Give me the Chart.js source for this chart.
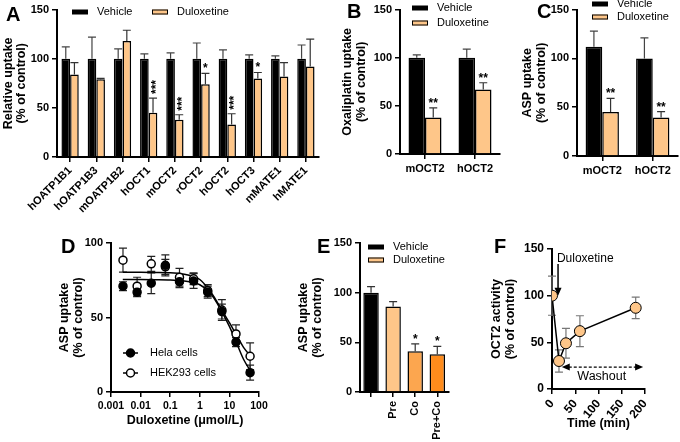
<!DOCTYPE html>
<html>
<head>
<meta charset="utf-8">
<script src="https://cdn.jsdelivr.net/npm/chart.js@4.4.1/dist/chart.umd.min.js"></script>
<style>
  body { margin: 0; background: #fff; }
  #fig { position: relative; width: 680px; height: 442px; overflow: hidden; font-family: "Liberation Sans", Arial, sans-serif; }
  canvas { position: absolute; }
  .lab { position: absolute; font-weight: bold; font-size: 20px; line-height: 20px; color: #000; }
</style>
</head>
<body>
<div id="fig">
  <canvas id="cA" width="330" height="226" style="left:0;top:0"></canvas>
  <canvas id="cB" width="175" height="185" style="left:330px;top:0"></canvas>
  <canvas id="cC" width="175" height="185" style="left:505px;top:0"></canvas>
  <canvas id="cD" width="235" height="212" style="left:40px;top:230px"></canvas>
  <canvas id="cE" width="160" height="212" style="left:295px;top:230px"></canvas>
  <canvas id="cF" width="225" height="212" style="left:455px;top:230px"></canvas>
  <div class="lab" style="left:6px;top:4px">A</div>
  <div class="lab" style="left:347px;top:1px">B</div>
  <div class="lab" style="left:537px;top:1px">C</div>
  <div class="lab" style="left:61px;top:236px">D</div>
  <div class="lab" style="left:317px;top:236px">E</div>
  <div class="lab" style="left:494px;top:236px">F</div>
</div>
<script>
// ---- data ----
const seriesNames = ['Vehicle', 'Duloxetine'];

// A
const aCats = ['hOATP1B1', 'hOATP1B3', 'mOATP1B2', 'hOCT1', 'mOCT2', 'rOCT2', 'hOCT2', 'hOCT3', 'mMATE1', 'hMATE1'];
const aVeh = [100, 100, 100, 100, 100, 100, 100, 100, 100, 100];
const aVehErr = [12, 22, 10, 5, 6, 16, 9, 4, 3, 14];
const aDul = [84, 79, 118, 45, 38, 74, 33, 80, 82, 92];
const aDulErr = [12, 1, 11, 15, 5, 11, 11, 6, 14, 28];
const aStars = ['', '', '', '***', '***', '*', '***', '*', '', ''];

// B
const bCats = ['mOCT2', 'hOCT2'];
const bVeh = [100, 100];
const bVehErr = [3, 9];
const bDul = [38, 67];
const bDulErr = [10, 7];
const bStars = ['**', '**'];

// C
const cCats = ['mOCT2', 'hOCT2'];
const cVeh = [112, 100];
const cVehErr = [16, 21];
const cDul = [45, 39.5];
const cDulErr = [14, 6];
const cStars = ['**', '**'];

// D
const dX = [0.00254, 0.00762, 0.0229, 0.0686, 0.206, 0.617, 1.85, 5.56, 16.7, 50];
const helaY = [71, 67, 73, 85, 74, 74.5, 67, 54, 33.5, 13];
const helaErr = [3, 3, 7, 7, 4, 5, 4, 5, 3, 5];
const hekY = [88.5, 71, 86, 84, 77, 76, 68, 55, 39, 24];
const hekErr = [8, 6, 5, 5, 6, 4, 4, 7, 6, 9];
const fitX = [0.0025, 0.01, 0.03, 0.1, 0.3, 0.6, 1, 2, 3, 5, 10, 20, 30, 58];
const helaFit = [75.5, 75.5, 75.4, 75.2, 74.5, 73.5, 72, 67.5, 63, 55.5, 44, 30, 22, 12.5];
const hekFit = [80.3, 80.3, 80.2, 80, 79, 77.5, 75.5, 69, 64, 56.5, 46.5, 36, 30, 23];
const dCells = ['Hela cells', 'HEK293 cells'];
const dTicks = [0.001, 0.01, 0.1, 1, 10, 100];
const dTickLabels = ['0.001', '0.01', '0.1', '1', '10', '100'];

// E
const eCats = ['', 'Pre', 'Co', 'Pre+Co'];
const eVals = [100, 86, 41, 38];
const eErr = [6, 5, 7.5, 8];
const eStars = ['', '', '*', '*'];

// F
const fT = [0, 15, 30, 60, 180];
const fY = [100, 30, 49, 62, 87];
const fErr = [21, 12, 16, 16.5, 11.5];

// ---- styles ----
const BLACK = '#000000';
const ORANGE = '#fec689';
const ORANGE2 = '#fca64f';
const ORANGE3 = '#ff8c1c';

Chart.defaults.font.family = '"Liberation Sans", Arial, sans-serif';
Chart.defaults.color = '#000';

// one-sided (bars) or two-sided (points) error bars, drawn under the marks
const errorBars = {
  id: 'errorBars',
  beforeDatasetsDraw(chart) {
    const { ctx, scales: { y } } = chart;
    chart.data.datasets.forEach((ds, i) => {
      if (!ds.errors) return;
      const meta = chart.getDatasetMeta(i);
      ctx.save();
      ctx.strokeStyle = ds.errorColor || '#333';
      ctx.lineWidth = 1.2;
      meta.data.forEach((el, j) => {
        const e = ds.errors[j];
        if (e == null) return;
        const v = typeof ds.data[j] === 'object' ? ds.data[j].y : ds.data[j];
        const x = el.x;
        const top = y.getPixelForValue(v + e);
        const bot = y.getPixelForValue(ds.errorBoth ? v - e : v);
        const cap = 4;
        ctx.beginPath();
        ctx.moveTo(x, bot); ctx.lineTo(x, top);
        ctx.moveTo(x - cap, top); ctx.lineTo(x + cap, top);
        if (ds.errorBoth) { ctx.moveTo(x - cap, bot); ctx.lineTo(x + cap, bot); }
        ctx.stroke();
      });
      ctx.restore();
    });
  }
};

// significance marks above error bars
const stars = {
  id: 'stars',
  afterDatasetsDraw(chart) {
    const { ctx, scales: { y } } = chart;
    chart.data.datasets.forEach((ds, i) => {
      if (!ds.stars) return;
      const meta = chart.getDatasetMeta(i);
      meta.data.forEach((el, j) => {
        const s = ds.stars[j];
        if (!s) return;
        const top = y.getPixelForValue(ds.data[j] + (ds.errors ? ds.errors[j] : 0));
        ctx.save();
        ctx.fillStyle = '#000';
        ctx.font = 'bold 12px "Liberation Sans", Arial, sans-serif';
        if (ds.starsVertical && s.length > 1) {
          ctx.translate(el.x, top - 4);
          ctx.rotate(-Math.PI / 2);
          ctx.textAlign = 'left';
          ctx.textBaseline = 'alphabetic';
          ctx.fillText(s, 0, 6.8);
        } else {
          ctx.textAlign = 'center';
          ctx.textBaseline = 'alphabetic';
          ctx.fillText(s, el.x, top - 1);
        }
        ctx.restore();
      });
    });
  }
};

// small swatch legends
const boxLegend = {
  id: 'boxLegend',
  afterDraw(chart, args, opts) {
    if (!opts.items) return;
    const ctx = chart.ctx;
    ctx.save();
    opts.items.forEach(it => {
      ctx.fillStyle = it.fill;
      ctx.fillRect(it.x, it.y - 2.5, 16, 5);
      if (it.fill !== BLACK) {
        ctx.strokeStyle = '#000';
        ctx.lineWidth = 1;
        ctx.strokeRect(it.x + 0.5, it.y - 2, 15, 4);
      }
      ctx.fillStyle = '#000';
      ctx.font = '11px "Liberation Sans", Arial, sans-serif';
      ctx.textBaseline = 'middle';
      ctx.textAlign = 'left';
      ctx.fillText(it.text, it.x + 25, it.y);
    });
    ctx.restore();
  }
};

function axisY(max, title, pad, width, size) {
  return {
    min: 0, max: max,
    ticks: { stepSize: 50, font: { weight: 'bold', size: size || 11 }, padding: 3 },
    grid: { drawOnChartArea: false, tickLength: 5, color: '#000', lineWidth: 1.5 },
    border: { color: '#000', width: 2 },
    title: { display: true, text: title, font: { weight: 'bold', size: 12.5, lineHeight: 1.05 }, padding: { top: pad, bottom: 0 } },
    afterFit: s => { s.width = width; }
  };
}

function axisXCat(height, rot, pad) {
  return {
    offset: true,
    ticks: { autoSkip: false, maxRotation: rot, minRotation: rot, font: { weight: 'bold', size: 11 }, padding: pad },
    grid: { drawOnChartArea: false, offset: false, tickLength: 5, color: '#000', lineWidth: 1.5 },
    border: { color: '#000', width: 2 },
    afterFit: s => { s.height = height; }
  };
}

function baseOptions(pad, scales, legendItems) {
  return {
    responsive: false,
    animation: false,
    events: [],
    layout: { padding: pad },
    scales: scales,
    plugins: { legend: { display: false }, tooltip: { enabled: false }, boxLegend: { items: legendItems } }
  };
}

function barSets(veh, vehErr, dul, dulErr, st, vertical) {
  return [
    { label: seriesNames[0], data: veh, errors: vehErr, errorColor: '#444', backgroundColor: BLACK,
      borderColor: BLACK, borderWidth: 1.5, barPercentage: 1, categoryPercentage: 0.66 },
    { label: seriesNames[1], data: dul, errors: dulErr, errorColor: '#333', stars: st, starsVertical: vertical,
      backgroundColor: ORANGE, borderColor: BLACK, borderWidth: 1.5, barPercentage: 1, categoryPercentage: 0.66 }
  ];
}

const pct = '(% of control)';

// A
new Chart(document.getElementById('cA'), {
  type: 'bar',
  data: { labels: aCats, datasets: barSets(aVeh, aVehErr, aDul, aDulErr, aStars, true) },
  options: baseOptions({ top: 9, right: 11 },
    { x: axisXCat(69, 45, 2), y: axisY(150, ['Relative uptake', pct], 1.5, 57) },
    [{ text: seriesNames[0], fill: BLACK, x: 72, y: 12 }, { text: seriesNames[1], fill: ORANGE, x: 152, y: 12 }]),
  plugins: [errorBars, stars, boxLegend]
});

// B
new Chart(document.getElementById('cB'), {
  type: 'bar',
  data: { labels: bCats, datasets: barSets(bVeh, bVehErr, bDul, bDulErr, bStars, false) },
  options: baseOptions({ top: 6, right: 5 },
    { x: axisXCat(31, 0, 3), y: axisY(150, ['Oxaliplatin uptake', pct], 11.4, 70) },
    [{ text: seriesNames[0], fill: BLACK, x: 82, y: 8 }, { text: seriesNames[1], fill: ORANGE, x: 82, y: 23 }]),
  plugins: [errorBars, stars, boxLegend]
});

// C
new Chart(document.getElementById('cC'), {
  type: 'bar',
  data: { labels: cCats, datasets: barSets(cVeh, cVehErr, cDul, cDulErr, cStars, false) },
  options: baseOptions({ top: 7, right: 2 },
    { x: axisXCat(29, 0, 3), y: axisY(150, ['ASP uptake', pct], 16.4, 72) },
    [{ text: seriesNames[0], fill: BLACK, x: 87, y: 4 }, { text: seriesNames[1], fill: ORANGE, x: 87, y: 17 }]),
  plugins: [errorBars, stars, boxLegend]
});

// D
const pts = (xs, ys) => xs.map((x, i) => ({ x: x, y: ys[i] }));
const pointLegend = {
  id: 'pointLegend',
  afterDraw(chart) {
    const ctx = chart.ctx;
    const rows = [{ text: dCells[0], fill: '#000', y: 123 }, { text: dCells[1], fill: '#fff', y: 143 }];
    ctx.save();
    rows.forEach(r => {
      ctx.strokeStyle = '#000';
      ctx.lineWidth = 1.5;
      ctx.beginPath(); ctx.moveTo(83, r.y); ctx.lineTo(98, r.y); ctx.stroke();
      ctx.beginPath(); ctx.arc(90.5, r.y, 4, 0, Math.PI * 2);
      ctx.fillStyle = r.fill; ctx.fill(); ctx.stroke();
      ctx.fillStyle = '#000';
      ctx.font = '11px "Liberation Sans", Arial, sans-serif';
      ctx.textBaseline = 'middle';
      ctx.fillText(r.text, 110, r.y);
    });
    ctx.restore();
  }
};
new Chart(document.getElementById('cD'), {
  type: 'scatter',
  data: {
    datasets: [
      { label: dCells[0], data: pts(dX, helaY), errors: helaErr, errorBoth: true, errorColor: '#222',
        pointRadius: 4, pointBackgroundColor: '#000', pointBorderColor: '#000', pointBorderWidth: 1.5 },
      { label: dCells[1], data: pts(dX, hekY), errors: hekErr, errorBoth: true, errorColor: '#222',
        pointRadius: 4, pointBackgroundColor: '#fff', pointBorderColor: '#000', pointBorderWidth: 1.5 },
      { data: pts(fitX, helaFit), showLine: true, pointRadius: 0, borderColor: '#000', borderWidth: 1.5, cubicInterpolationMode: 'monotone' },
      { data: pts(fitX, hekFit), showLine: true, pointRadius: 0, borderColor: '#000', borderWidth: 1.5, cubicInterpolationMode: 'monotone' }
    ]
  },
  options: baseOptions({ top: 13, right: 16 }, {
    x: {
      type: 'logarithmic', min: 0.001, max: 100,
      afterBuildTicks: s => { s.ticks = dTicks.map(v => ({ value: v })); },
      ticks: { autoSkip: false, maxRotation: 0, font: { weight: 'bold', size: 10.5 }, padding: 3,
        callback: (v, i) => dTickLabels[i] },
      grid: { drawOnChartArea: false, tickLength: 5, color: '#000', lineWidth: 1.5 },
      border: { color: '#000', width: 2 },
      title: { display: true, text: 'Duloxetine (μmol/L)', font: { weight: 'bold', size: 12.5, lineHeight: 1.05 }, padding: { top: 0, bottom: 14.4 } },
      afterFit: s => { s.height = 50; }
    },
    y: axisY(100, ['ASP uptake', pct], 18.4, 71)
  }, null),
  plugins: [errorBars, pointLegend]
});

// E
new Chart(document.getElementById('cE'), {
  type: 'bar',
  data: {
    labels: eCats,
    datasets: [{ data: eVals, errors: eErr, errorColor: '#333', stars: eStars,
      backgroundColor: [BLACK, ORANGE, ORANGE2, ORANGE3], borderColor: BLACK, borderWidth: 1.5,
      barPercentage: 1, categoryPercentage: 0.7 }]
  },
  options: baseOptions({ top: 13, right: 4 },
    { x: axisXCat(50, 90, 4), y: axisY(150, ['ASP uptake', pct], 2.4, 65) },
    [{ text: seriesNames[0], fill: BLACK, x: 73, y: 17 }, { text: seriesNames[1], fill: ORANGE, x: 73, y: 30 }]),
  plugins: [errorBars, stars, boxLegend]
});

// F
const fNotes = {
  id: 'fNotes',
  afterDatasetsDraw(chart) {
    const { ctx, scales: { x, y } } = chart;
    ctx.save();
    ctx.strokeStyle = '#000';
    ctx.fillStyle = '#000';
    ctx.lineWidth = 1.5;
    // Duloxetine arrow
    const ax = x.getPixelForValue(13);
    const ay1 = y.getPixelForValue(134), ay2 = y.getPixelForValue(100);
    ctx.beginPath(); ctx.moveTo(ax, ay1); ctx.lineTo(ax, ay2 - 7); ctx.stroke();
    ctx.beginPath(); ctx.moveTo(ax - 3.5, ay2 - 8); ctx.lineTo(ax + 3.5, ay2 - 8); ctx.lineTo(ax, ay2); ctx.closePath(); ctx.fill();
    ctx.font = '12px "Liberation Sans", Arial, sans-serif';
    ctx.textBaseline = 'middle';
    ctx.textAlign = 'left';
    ctx.fillText('Duloxetine', x.getPixelForValue(10.5), y.getPixelForValue(140));
    // Washout double arrow
    const wy = y.getPixelForValue(23.5);
    const wx1 = x.getPixelForValue(21), wx2 = x.getPixelForValue(196);
    ctx.lineWidth = 1.2;
    ctx.setLineDash([3, 2]);
    ctx.beginPath(); ctx.moveTo(wx1 + 7, wy); ctx.lineTo(wx2 - 7, wy); ctx.stroke();
    ctx.setLineDash([]);
    ctx.beginPath(); ctx.moveTo(wx1, wy); ctx.lineTo(wx1 + 8, wy - 3.5); ctx.lineTo(wx1 + 8, wy + 3.5); ctx.closePath(); ctx.fill();
    ctx.beginPath(); ctx.moveTo(wx2, wy); ctx.lineTo(wx2 - 8, wy - 3.5); ctx.lineTo(wx2 - 8, wy + 3.5); ctx.closePath(); ctx.fill();
    ctx.font = '12.5px "Liberation Sans", Arial, sans-serif';
    ctx.textAlign = 'center';
    ctx.fillText('Washout', x.getPixelForValue(107), y.getPixelForValue(13));
    ctx.restore();
  }
};
new Chart(document.getElementById('cF'), {
  type: 'scatter',
  data: {
    datasets: [{ data: pts(fT, fY), errors: fErr, errorBoth: true, errorColor: '#777', showLine: true,
      borderColor: '#000', borderWidth: 1.5, pointRadius: 5.5, pointBackgroundColor: ORANGE,
      pointBorderColor: '#000', pointBorderWidth: 1 }]
  },
  options: baseOptions({ top: 19, right: 35 }, {
    x: {
      type: 'linear', min: 0, max: 200,
      ticks: { stepSize: 50, font: { weight: 'bold', size: 12 }, padding: 3 },
      grid: { drawOnChartArea: false, tickLength: 5, color: '#000', lineWidth: 1.5 },
      border: { color: '#000', width: 2 },
      title: { display: true, text: 'Time (min)', font: { weight: 'bold', size: 12.5, lineHeight: 1.05 }, padding: { top: 0, bottom: 11.4 } },
      afterFit: s => { s.height = 53; }
    },
    y: axisY(150, ['OCT2 activity', pct], 35.4, 97, 12)
  }, null),
  plugins: [errorBars, fNotes]
});
</script>
</body>
</html>
